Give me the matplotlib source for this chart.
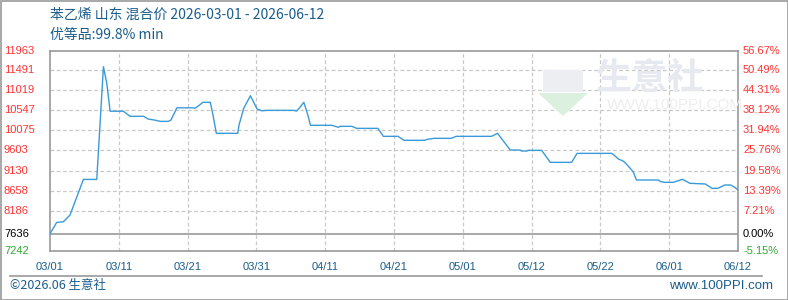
import matplotlib
matplotlib.use("Agg")
import matplotlib.pyplot as plt
from matplotlib import transforms
from matplotlib.patches import Rectangle, Polygon

# price series (day offset from 2026-03-01, yuan/ton)
days = [0, 1, 2, 2.5, 3, 4, 5, 7, 8, 8.5, 9, 11, 11.5, 12, 14, 14.7, 15.7, 16.5, 17.7,
        18.1, 19, 21.4, 21.7, 22.4, 22.9, 24, 24.4, 24.9, 28.1, 28.3, 29, 30, 31, 31.7,
        32.4, 36.5, 36.9, 37.3, 38, 38.6, 39, 42.2, 42.7, 43.2, 43.4, 45.2, 45.7, 45.9,
        49.1, 49.9, 52.1, 53, 56.1, 56.5, 57.5, 60.1, 60.8, 66.1, 67, 68.9, 70.4, 70.6,
        71.4, 71.6, 73.6, 74.9, 78.1, 78.9, 84.1, 84.6, 85.1, 85.8, 86.3, 87.3, 87.8,
        91.1, 91.3, 92, 93.3, 94.7, 95.8, 98.1, 99.1, 100, 101, 101.9, 102.5, 103]
prices = [7636, 7905, 7920, 8000, 8080, 8500, 8920, 8920, 11580, 11190, 10530, 10530,
          10465, 10410, 10410, 10345, 10320, 10290, 10290, 10320, 10610, 10610, 10598,
          10676, 10740, 10740, 10440, 10008, 10008, 10204, 10598, 10895, 10581, 10540,
          10550, 10550, 10534, 10598, 10740, 10440, 10197, 10197, 10173, 10149, 10173,
          10173, 10140, 10125, 10125, 9937, 9937, 9843, 9843, 9866, 9890, 9890, 9937,
          9937, 10008, 9614, 9614, 9590, 9590, 9606, 9606, 9323, 9323, 9535, 9535, 9472,
          9401, 9354, 9283, 9102, 8906, 8906, 8875, 8851, 8851, 8922, 8828, 8812, 8710,
          8710, 8788, 8788, 8734, 8670]

base = 7636
y_ticks = [7242, 7636, 8186, 8658, 9130, 9603, 10075, 10547, 11019, 11491, 11963]
pct_labels = ["-5.15%", "0.00%", "7.21%", "13.39%", "19.58%", "25.76%", "31.94%",
              "38.12%", "44.31%", "50.49%", "56.67%"]
date_labels = ["03/01", "03/11", "03/21", "03/31", "04/11", "04/21", "05/01",
               "05/12", "05/22", "06/01", "06/12"]
span_days = 103

title = "苯乙烯 山东 混合价 2026-03-01 - 2026-06-12"
subtitle = "优等品:99.8% min"

W, H = 788, 300
fig = plt.figure(figsize=(W / 100, H / 100), dpi=100)
cjk = ["Noto Sans CJK SC", "DejaVu Sans"]
num_font = "Liberation Sans"
blue_txt = "#1b5d8c"

ax = fig.add_axes([50 / W, (H - 250.5) / H, 688 / W, 200 / H])
ax.set_xlim(0, span_days)
ax.set_ylim(y_ticks[0], y_ticks[-1])

# grid
xt = [span_days * k / 10 for k in range(11)]
for x in xt[1:-1]:
    ax.axvline(x, color="#c8c8c8", lw=0.9, ls=(0, (3, 2)), zorder=1)
for v in y_ticks[2:-1]:
    ax.axhline(v, color="#c8c8c8", lw=0.9, ls=(0, (3, 2)), zorder=1)
ax.axhline(base, color="#999999", lw=1.2, zorder=2)

# watermark
fig.text(650 / W, (H - 79) / H, "生意社", family=cjk, fontsize=26, color="#e6e9f0",
         ha="center", va="center", weight="bold", zorder=0)
fig.text(675 / W, (H - 105) / H, "WWW.100PPI.COM", family=num_font, fontsize=11,
         color="#eeeeee", ha="center", va="center", zorder=0)
fig.patches.append(Rectangle((543 / W, (H - 92) / H), 40 / W, 22 / H, transform=fig.transFigure,
                             facecolor="#eceef2", edgecolor="none", zorder=0))
fig.patches.append(Polygon([(538 / W, (H - 93) / H), (588 / W, (H - 93) / H), (563 / W, (H - 116) / H)],
                           closed=True, transform=fig.transFigure, facecolor="#dcf0df",
                           edgecolor="none", zorder=0))

ax.plot(days, prices, color="#3a9ad9", lw=1.0, zorder=3)

ax.set_xticks([])
ax.set_yticks([])
for s in ax.spines.values():
    s.set_color("#999999")
    s.set_linewidth(1.2)
ax.patch.set_alpha(0)

# y labels left and right
trans = transforms.blended_transform_factory(fig.transFigure, ax.transData)
for i, v in enumerate(y_ticks):
    c = "#33aa33" if i == 0 else ("#000000" if i == 1 else "#ff3333")
    ax.text(4 / W, v, str(v), transform=trans, ha="left", va="center",
            fontsize=8, family=num_font, color=c, clip_on=False)
    ax.text(743 / W, v, pct_labels[i], transform=trans, ha="left", va="center",
            fontsize=8, family=num_font, color=c, clip_on=False)

# x labels
transx = transforms.blended_transform_factory(ax.transData, fig.transFigure)
for x, lab in zip(xt, date_labels):
    ax.text(x, (H - 267) / H, lab, transform=transx, ha="center", va="center",
            fontsize=8, family=num_font, color=blue_txt, clip_on=False)

fig.text(50 / W, (H - 15) / H, title, family=cjk, fontsize=10, color=blue_txt, va="center")
fig.text(50 / W, (H - 35) / H, subtitle, family=cjk, fontsize=10, color=blue_txt, va="center")

# footer
fig.lines.append(plt.Line2D([10 / W, 762 / W], [(H - 275.5) / H] * 2, transform=fig.transFigure,
                            color="#999999", lw=1.2))
fig.text(10 / W, (H - 286) / H, "©2026.06 生意社", family=cjk, fontsize=9, color=blue_txt, va="center")
fig.text(773 / W, (H - 286) / H, "www.100PPI.com", family=num_font, fontsize=9.5,
         color=blue_txt, va="center", ha="right")

# outer border
fig.patches.append(Rectangle((0.5 / W, 0.5 / H), (W - 1) / W, (H - 1) / H, transform=fig.transFigure,
                             fill=False, edgecolor="#999999", lw=1.2))

fig.savefig("out.png", dpi=100)
